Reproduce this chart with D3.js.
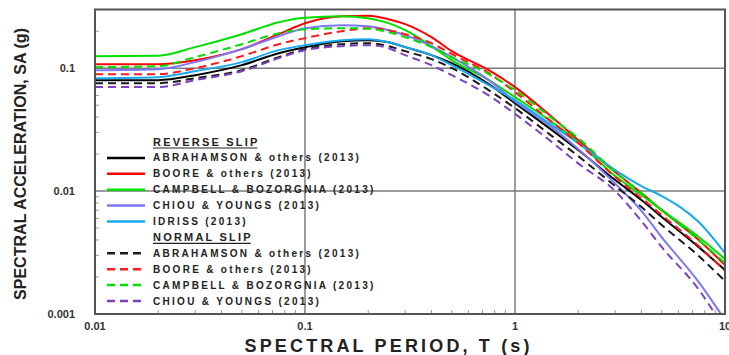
<!DOCTYPE html>
<html>
<head>
<meta charset="utf-8">
<script src="https://cdn.jsdelivr.net/npm/d3@7/dist/d3.min.js"></script>
<style>
  body { margin: 0; background: #fff; }
  text { font-family: Arial, "Liberation Sans", sans-serif; }
</style>
</head>
<body>
<svg id="chart" width="729" height="355"></svg>
<script>
// Spectral periods (s)
const periods = [0.01, 0.02, 0.03, 0.05, 0.075, 0.1, 0.15, 0.2, 0.25, 0.3, 0.4, 0.5, 0.75, 1, 1.5, 2, 3, 4, 5, 7.5, 10];

// Spectral acceleration (g), reverse slip
const askReverse  = [0.0799, 0.0799, 0.0877, 0.1058, 0.1324, 0.1482, 0.1658, 0.1689, 0.1627, 0.1482, 0.1276, 0.1098, 0.0741, 0.0519, 0.0313, 0.02155, 0.01229, 0.00845, 0.00615, 0.00350, 0.00228];
const bssaReverse = [0.1078, 0.1078, 0.1161, 0.1427, 0.1889, 0.2322, 0.2648, 0.2672, 0.2503, 0.2279, 0.1786, 0.1375, 0.0963, 0.0701, 0.0400, 0.02598, 0.01427, 0.00963, 0.00700, 0.00400, 0.00250];
const cbReverse   = [0.1252, 0.1264, 0.1482, 0.1889, 0.2366, 0.2574, 0.2648, 0.2550, 0.2322, 0.2037, 0.1510, 0.1161, 0.0799, 0.0581, 0.0364, 0.0250, 0.01324, 0.00928, 0.00700, 0.00423, 0.00280];
const cyReverse   = [0.0963, 0.0981, 0.1119, 0.1427, 0.1820, 0.2114, 0.2237, 0.2196, 0.2037, 0.1855, 0.1510, 0.1229, 0.0799, 0.0535, 0.0330, 0.02200, 0.01150, 0.00690, 0.00420, 0.00182, 0.000894];
const idReverse   = [0.0829, 0.0845, 0.0945, 0.1119, 0.1401, 0.1538, 0.1689, 0.1721, 0.1627, 0.1482, 0.1276, 0.1058, 0.0727, 0.0549, 0.0344, 0.02456, 0.01482, 0.01098, 0.00911, 0.00560, 0.00313];

// Spectral acceleration (g), normal slip
const askNormal  = [0.0755, 0.0755, 0.0829, 0.0963, 0.1229, 0.1427, 0.1567, 0.1597, 0.1510, 0.1375, 0.1184, 0.1000, 0.0662, 0.0473, 0.0280, 0.01925, 0.01098, 0.00741, 0.00529, 0.00296, 0.001855];
const bssaNormal = [0.0894, 0.0894, 0.1000, 0.1252, 0.1567, 0.1754, 0.1999, 0.2114, 0.2037, 0.1889, 0.1597, 0.1300, 0.0911, 0.0638, 0.0364, 0.02456, 0.0130, 0.00877, 0.00638, 0.00357, 0.00224];
const cbNormal   = [0.1019, 0.1038, 0.1229, 0.1567, 0.1925, 0.2075, 0.2114, 0.2095, 0.1962, 0.1786, 0.1482, 0.1229, 0.0894, 0.0662, 0.0392, 0.02698, 0.01427, 0.00963, 0.00700, 0.00400, 0.00260];
const cyNormal   = [0.0701, 0.0701, 0.0799, 0.0945, 0.1206, 0.1401, 0.1510, 0.1538, 0.1454, 0.1276, 0.1058, 0.0877, 0.0600, 0.0425, 0.0250, 0.01680, 0.01000, 0.00570, 0.00350, 0.00158, 0.000741];

const xTicks = [0.01, 0.1, 1, 10];
const yTicks = [0.001, 0.01, 0.1];

const reverseNames = ["ABRAHAMSON & others (2013)", "BOORE & others (2013)", "CAMPBELL & BOZORGNIA (2013)", "CHIOU & YOUNGS (2013)", "IDRISS (2013)"];
const normalNames  = ["ABRAHAMSON & others (2013)", "BOORE & others (2013)", "CAMPBELL & BOZORGNIA (2013)", "CHIOU & YOUNGS (2013)"];

const series = [
  { name: reverseNames[0], values: askReverse,  color: "#000000", dash: null },
  { name: reverseNames[1], values: bssaReverse, color: "#ff0000", dash: null },
  { name: reverseNames[2], values: cbReverse,   color: "#00e000", dash: null },
  { name: reverseNames[3], values: cyReverse,   color: "#7a78f5", dash: null },
  { name: reverseNames[4], values: idReverse,   color: "#18aaf0", dash: null },
  { name: normalNames[0],  values: askNormal,   color: "#1a1a1a", dash: "8,5" },
  { name: normalNames[1],  values: bssaNormal,  color: "#ff1a1a", dash: "8,5" },
  { name: normalNames[2],  values: cbNormal,    color: "#00e000", dash: "8,5" },
  { name: normalNames[3],  values: cyNormal,    color: "#8040c0", dash: "8,5" }
];

// Layout
const plot = { left: 95, right: 725, top: 9.5, bottom: 314 };
const svg = d3.select("#chart");

const x = d3.scaleLog().domain([0.01, 10]).range([plot.left, plot.right]);
const y = d3.scaleLog().domain([0.001, 0.3]).range([plot.bottom, plot.top]);

svg.append("defs").append("clipPath").attr("id", "plotClip")
  .append("rect")
  .attr("x", plot.left).attr("y", plot.top)
  .attr("width", plot.right - plot.left).attr("height", plot.bottom - plot.top);

// Minor ticks (inside, left and bottom)
const minorX = [];
[0.01, 0.1, 1].forEach(d => { for (let k = 2; k <= 9; k++) minorX.push(d * k); });
const minorY = [];
[0.001, 0.01, 0.1].forEach(d => { for (let k = 2; k <= 9; k++) if (d * k <= 0.3) minorY.push(d * k); });

svg.append("g").selectAll("line").data(minorX).join("line")
  .attr("x1", d => x(d)).attr("x2", d => x(d))
  .attr("y1", plot.bottom).attr("y2", plot.bottom - 4)
  .attr("stroke", "#999").attr("stroke-width", 1);

svg.append("g").selectAll("line").data(minorY).join("line")
  .attr("x1", plot.left).attr("x2", plot.left + 4)
  .attr("y1", d => y(d)).attr("y2", d => y(d))
  .attr("stroke", "#999").attr("stroke-width", 1);

// Decade grid lines
svg.append("g").selectAll("line").data([0.1, 1]).join("line")
  .attr("x1", d => x(d)).attr("x2", d => x(d))
  .attr("y1", plot.top).attr("y2", plot.bottom)
  .attr("stroke", "#7a7a7a").attr("stroke-width", 1.5);

svg.append("g").selectAll("line").data([0.01, 0.1]).join("line")
  .attr("x1", plot.left).attr("x2", plot.right)
  .attr("y1", d => y(d)).attr("y2", d => y(d))
  .attr("stroke", "#7a7a7a").attr("stroke-width", 1.5);

// Curves
const line = d3.line()
  .x((d, i) => x(periods[i]))
  .y(d => y(d))
  .curve(d3.curveMonotoneX);

svg.append("g").attr("clip-path", "url(#plotClip)")
  .selectAll("path").data(series).join("path")
  .attr("d", d => line(d.values))
  .attr("fill", "none")
  .attr("stroke", d => d.color)
  .attr("stroke-width", 2)
  .attr("stroke-dasharray", d => d.dash);

// Frame
svg.append("rect")
  .attr("x", plot.left).attr("y", plot.top)
  .attr("width", plot.right - plot.left).attr("height", plot.bottom - plot.top)
  .attr("fill", "none").attr("stroke", "#555").attr("stroke-width", 2);

// Tick labels
svg.append("g").selectAll("text").data(yTicks).join("text")
  .attr("x", 75).attr("y", d => y(d)).attr("dy", "0.35em")
  .attr("text-anchor", "end")
  .style("font-size", "11px").style("font-weight", "bold").style("fill", "#333")
  .text(d => d);

svg.append("g").selectAll("text").data(xTicks).join("text")
  .attr("x", d => x(d)).attr("y", 330)
  .attr("text-anchor", "middle")
  .style("font-size", "11px").style("font-weight", "bold").style("fill", "#333")
  .text(d => d);

// Axis titles
svg.append("text")
  .attr("x", 387).attr("y", 352)
  .attr("text-anchor", "middle")
  .attr("textLength", 285).attr("lengthAdjust", "spacing")
  .style("font-size", "18px").style("font-weight", "bold").style("fill", "#222")
  .text("SPECTRAL PERIOD, T (s)");

svg.append("text")
  .attr("transform", "translate(26,164) rotate(-90)")
  .attr("text-anchor", "middle")
  .attr("textLength", 272).attr("lengthAdjust", "spacing")
  .style("font-size", "16px").style("font-weight", "bold").style("fill", "#222")
  .text("SPECTRAL ACCELERATION, SA (g)");

// Legend
const legend = svg.append("g");
const rowStep = 15.9;
const headers = [
  { label: "REVERSE SLIP", row: 0 },
  { label: "NORMAL SLIP", row: 6 }
];
headers.forEach(h => {
  const yy = 142 + h.row * rowStep;
  const t = legend.append("text")
    .attr("x", 153).attr("y", yy).attr("dy", "0.35em")
    .style("font-size", "11px").style("font-weight", "bold")
    .style("letter-spacing", "2.2px").style("fill", "#222")
    .text(h.label);
  const w = t.node().getComputedTextLength();
  legend.append("line")
    .attr("x1", 153).attr("x2", 153 + w - 2)
    .attr("y1", yy + 6).attr("y2", yy + 6)
    .attr("stroke", "#222").attr("stroke-width", 1.2);
});

series.forEach((s, i) => {
  const row = i < 5 ? i + 1 : i + 2;
  const yy = 142 + row * rowStep;
  legend.append("line")
    .attr("x1", 107).attr("x2", 145)
    .attr("y1", yy).attr("y2", yy)
    .attr("stroke", s.color).attr("stroke-width", 2.5)
    .attr("stroke-dasharray", s.dash);
  legend.append("text")
    .attr("x", 153).attr("y", yy).attr("dy", "0.35em")
    .style("font-size", "10px").style("font-weight", "bold")
    .style("letter-spacing", "2.3px").style("fill", "#222")
    .text(s.name);
});
</script>
</body>
</html>
